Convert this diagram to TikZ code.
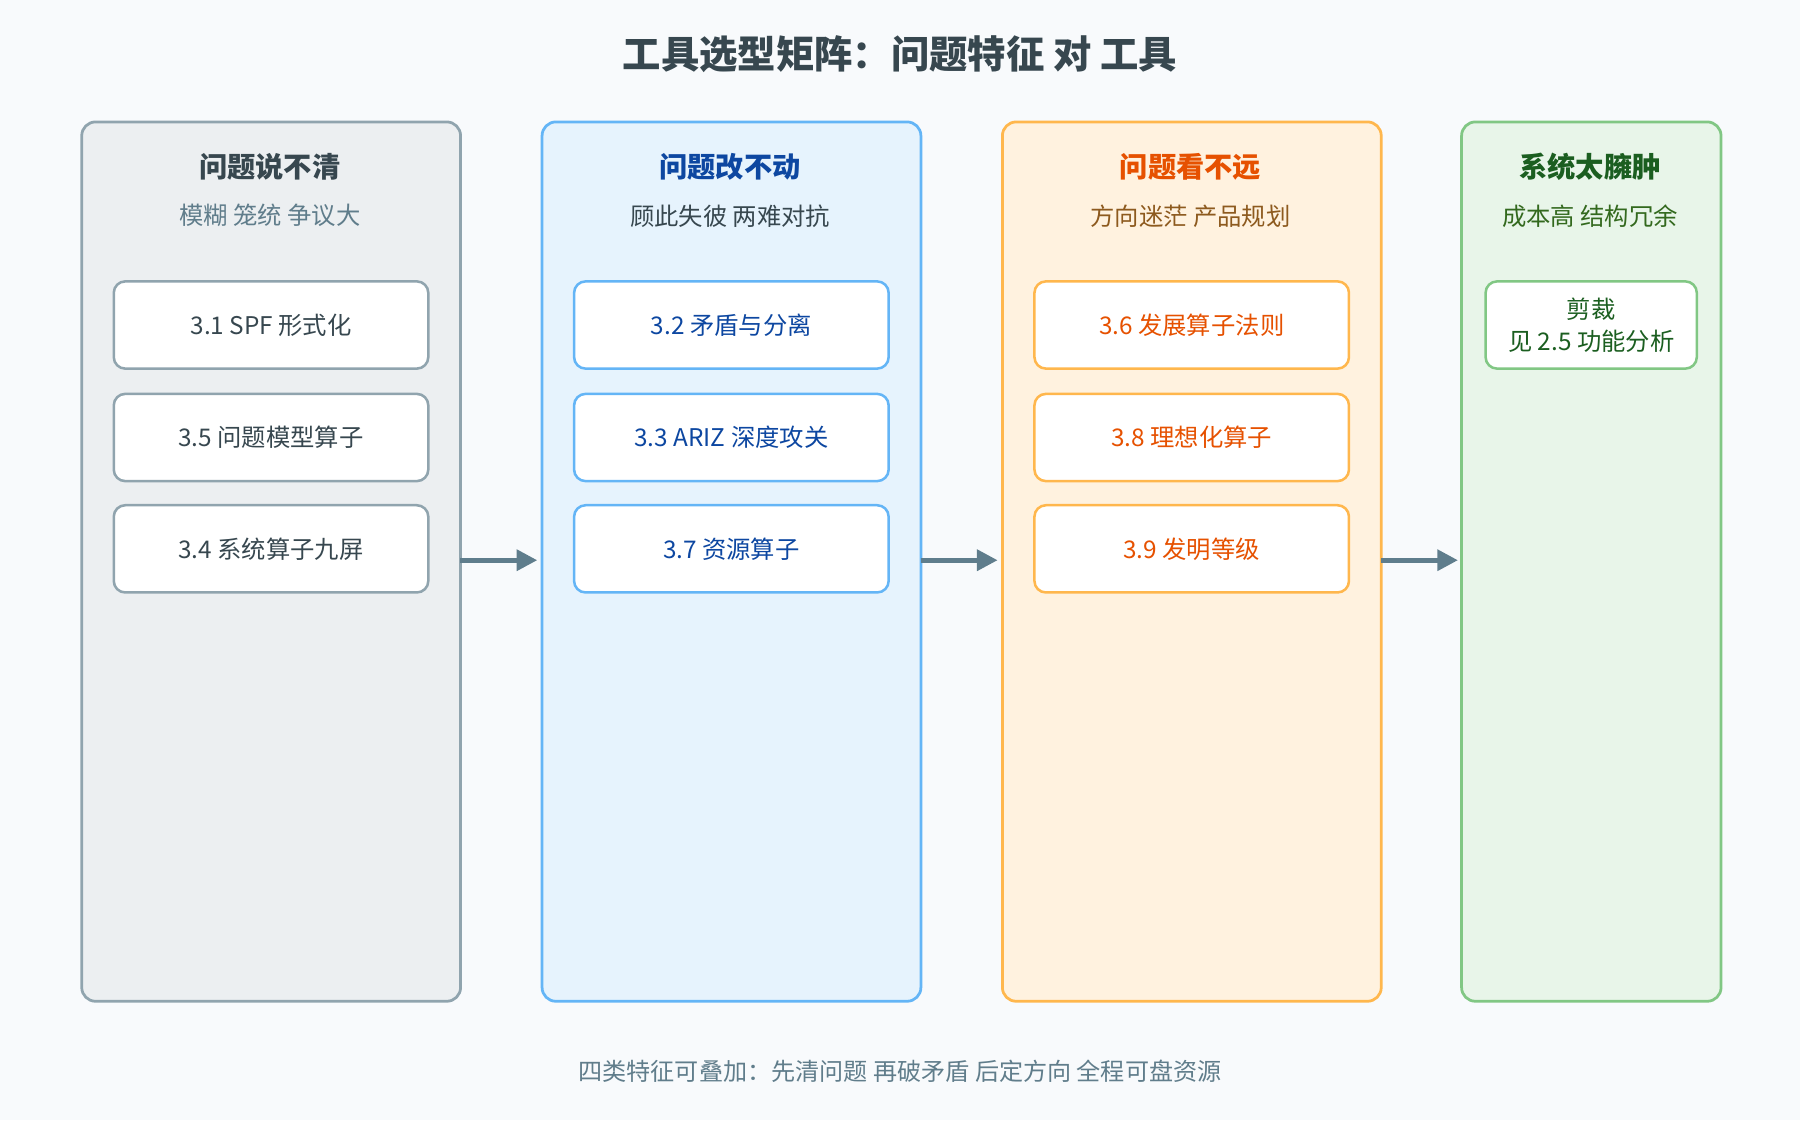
\documentclass[tikz,border=0pt]{standalone}
\usepackage{fontspec}
\setmainfont{Noto Sans CJK SC}
\usepackage{tikz}
\usetikzlibrary{arrows.meta}
\definecolor{bg}{HTML}{F8FAFC}
\definecolor{greyfill}{HTML}{ECEFF1}\definecolor{greyline}{HTML}{90A4AE}\definecolor{greytext}{HTML}{37474F}\definecolor{greysub}{HTML}{607D8B}
\definecolor{bluefill}{HTML}{E6F3FD}\definecolor{blueline}{HTML}{64B5F6}\definecolor{bluetext}{HTML}{0D47A1}
\definecolor{orfill}{HTML}{FFF2DF}\definecolor{orline}{HTML}{FFB74D}\definecolor{ortext}{HTML}{E65100}\definecolor{orsub}{HTML}{8D5A1E}
\definecolor{grfill}{HTML}{E8F5E9}\definecolor{grline}{HTML}{81C784}\definecolor{grtext}{HTML}{1B5E20}\definecolor{grsub}{HTML}{33691E}
\definecolor{arrowc}{HTML}{5F7D8C}
\tikzset{
  column/.style={draw=#1, line width=1.2pt, rounded corners=6pt, anchor=north west},
  tool/.style={draw=#1, fill=white, line width=1.1pt, rounded corners=5pt, anchor=north west,
    minimum width=137pt, minimum height=38pt, font=\fontsize{10.6}{13}\selectfont, align=center},
  head/.style={font=\fontsize{12.3}{15}\selectfont\bfseries},
  sub/.style={font=\fontsize{10.6}{13}\selectfont},
  flow/.style={-{Triangle[length=9pt,width=9pt]}, line width=2pt, arrowc}
}
\begin{document}
\begin{tikzpicture}[x=0.5pt,y=-0.5pt]
\fill[bg] (0,0) rectangle (1568,976);
\useasboundingbox (0,0) rectangle (1568,976);

%% titre
\node (title) at (784,47) {\fontsize{16.7}{20}\selectfont\bfseries\color{greytext}工具选型矩阵：问题特征 对 工具};

%% colonne 1
\node (c1) [column=greyline, fill=greyfill, minimum width=165pt, minimum height=383pt] at (70,105) {};
\node (h1) [head, text=greytext] at (235,145) {问题说不清};
\node (s1) [sub, text=greysub] at (235,188) {模糊 笼统 争议大};
\node (t31) [tool=greyline, text=greytext] at (98,244) {3.1 SPF 形式化};
\node (t35) [tool=greyline, text=greytext] at (98,342) {3.5 问题模型算子};
\node (t34) [tool=greyline, text=greytext] at (98,439) {3.4 系统算子九屏};

%% colonne 2
\node (c2) [column=blueline, fill=bluefill, minimum width=165pt, minimum height=383pt] at (471,105) {};
\node (h2) [head, text=bluetext] at (636,145) {问题改不动};
\node (s2) [sub, text=greytext] at (636,188) {顾此失彼 两难对抗};
\node (t32) [tool=blueline, text=bluetext] at (499,244) {3.2 矛盾与分离};
\node (t33) [tool=blueline, text=bluetext] at (499,342) {3.3 ARIZ 深度攻关};
\node (t37) [tool=blueline, text=bluetext] at (499,439) {3.7 资源算子};

%% colonne 3
\node (c3) [column=orline, fill=orfill, minimum width=165pt, minimum height=383pt] at (872,105) {};
\node (h3) [head, text=ortext] at (1037,145) {问题看不远};
\node (s3) [sub, text=orsub] at (1037,188) {方向迷茫 产品规划};
\node (t36) [tool=orline, text=ortext] at (900,244) {3.6 发展算子法则};
\node (t38) [tool=orline, text=ortext] at (900,342) {3.8 理想化算子};
\node (t39) [tool=orline, text=ortext] at (900,439) {3.9 发明等级};

%% colonne 4
\node (c4) [column=grline, fill=grfill, minimum width=113pt, minimum height=383pt] at (1272,105) {};
\node (h4) [head, text=grtext] at (1385,145) {系统太臃肿};
\node (s4) [sub, text=grsub] at (1385,188) {成本高 结构冗余};
\node (tcut) [tool=grline, text=grtext, minimum width=92pt, font=\fontsize{10.6}{14}\selectfont] at (1293,244) {剪裁\\见 2.5 功能分析};

%% fleches
\coordinate (a1) at (401,488); \coordinate (b1) at (468,488);
\coordinate (a2) at (802,488); \coordinate (b2) at (869,488);
\coordinate (a3) at (1203,488); \coordinate (b3) at (1270,488);
\draw[flow] (a1) -- (b1);
\draw[flow] (a2) -- (b2);
\draw[flow] (a3) -- (b3);

%% note
\node (note) [sub, text=greysub, font=\fontsize{10.5}{13}\selectfont] at (784,933) {四类特征可叠加：先清问题 再破矛盾 后定方向 全程可盘资源};
\end{tikzpicture}
\end{document}
